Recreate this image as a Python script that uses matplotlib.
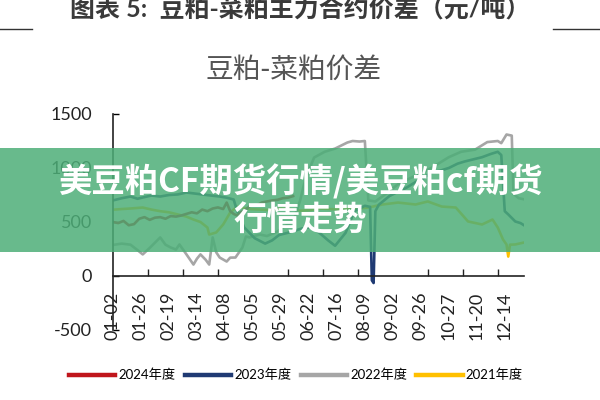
import matplotlib.pyplot as plt
from matplotlib.patches import Rectangle
from matplotlib.lines import Line2D

plt.rcParams['font.family'] = ['Lato', 'Noto Sans CJK SC', 'DejaVu Sans']
plt.rcParams['axes.unicode_minus'] = False

# x axis: trading-day index over one season, labels every 16 days
date_labels = ["01-02", "01-26", "02-19", "03-14", "04-08", "05-05", "05-29",
               "06-22", "07-16", "08-09", "09-02", "09-26", "10-27", "11-20", "12-14"]
label_step = 16
tick_step = 20
last_day = 235

# values (yuan/ton), x = trading day index
days_2024 = [0, 3, 6, 9, 12, 15, 18, 21, 24, 27, 30, 33, 36, 39, 42, 45, 48, 51, 54,
             57, 60, 63, 65, 67, 69, 71, 73, 76, 79, 82, 85, 88, 91, 94, 97, 100, 103]
vals_2024 = [500, 490, 510, 470, 480, 530, 545, 520, 540, 545, 530, 555, 550, 560, 575,
             590, 580, 615, 600, 625, 635, 620, 680, 600, 575, 560, 590, 615, 660, 650,
             680, 690, 700, 705, 720, 725, 740]

days_2023 = [0, 5, 10, 14, 17, 22, 27, 32, 37, 42, 46, 51, 56, 61, 65, 69, 71, 75, 81,
             87, 91, 95, 100, 104, 108, 113, 118, 123, 127, 133, 138, 144, 147, 148, 149,
             150, 152, 158, 163, 168, 173, 178, 182, 187, 192, 197, 201, 206, 211, 216,
             220, 222, 224, 226, 230, 233, 235]
vals_2023 = [700, 720, 736, 715, 727, 745, 736, 750, 755, 773, 765, 755, 745, 736, 725,
             708, 600, 450, 350, 300, 330, 380, 400, 420, 440, 450, 400, 330, 280, 400,
             600, 650, 640, -40, -65, 600, 660, 740, 780, 820, 870, 910, 960, 975, 1000,
             1040, 1060, 1080, 1100, 1130, 1150, 1120, 600, 570, 505, 490, 470]

days_2022 = [1, 5, 10, 14, 17, 21, 27, 30, 33, 36, 38, 42, 46, 48, 50, 53, 55, 57, 59,
             61, 65, 67, 70, 74, 76, 78, 84, 88, 94, 98, 103, 107, 110, 115, 121, 127,
             134, 137, 141, 144, 146, 150, 156, 163, 173, 182, 192, 199, 207, 214, 220,
             222, 225, 228, 229, 232, 235]
vals_2022 = [290, 300, 290, 240, 200, 260, 357, 290, 264, 245, 292, 200, 106, 160, 200,
             150, 106, 357, 220, 171, 134, 170, 171, 264, 366, 357, 384, 370, 412, 460,
             500, 700, 900, 1097, 1150, 1180, 1236, 1250, 1245, 1250, 700, 690, 760, 850,
             930, 1000, 1100, 1150, 1170, 1240, 1250, 1230, 1310, 1300, 760, 720, 710]

days_2021 = [1, 5, 10, 17, 22, 27, 32, 37, 42, 46, 50, 54, 55, 59, 63, 67, 71, 78, 84,
             90, 96, 101, 107, 113, 118, 124, 130, 136, 141, 146, 154, 163, 173, 180,
             188, 196, 203, 211, 217, 220, 223, 225, 226, 227, 230, 235]
vals_2021 = [615, 620, 625, 634, 615, 600, 590, 570, 550, 523, 500, 449, 384, 403, 477,
             588, 643, 620, 615, 610, 625, 620, 605, 610, 625, 620, 615, 630, 625, 634,
             662, 680, 662, 690, 643, 634, 505, 477, 523, 449, 338, 292, 180, 290, 292, 310]

series = [
    ("2024年度", days_2024, vals_2024, "#C0161C"),
    ("2023年度", days_2023, vals_2023, "#1F3A73"),
    ("2022年度", days_2022, vals_2022, "#A6A6A6"),
    ("2021年度", days_2021, vals_2021, "#FFC000"),
]

fig = plt.figure(figsize=(6, 4), dpi=100)
ax = fig.add_axes([113 / 600, 70 / 400, 411 / 600, 216 / 400])

# draw older seasons first so the current one sits on top
for name, d, v, c in reversed(series):
    ax.plot(d, v, color=c, lw=1.9, solid_joinstyle="round")

ax.set_xlim(0, last_day)
ax.set_ylim(-500, 1500)
ax.set_yticks([-500, 0, 500, 1000, 1500])
ax.tick_params(axis="y", direction="in", length=4, width=1, pad=15,
               labelsize=13, labelcolor="#222222")

ax.set_xticks(range(0, last_day, label_step))
ax.set_xticklabels(date_labels)
ax.set_xticks(range(tick_step, last_day, tick_step), minor=True)
ax.tick_params(axis="x", which="major", length=0, pad=11, labelsize=13,
               labelcolor="#222222", labelrotation=90)
ax.tick_params(axis="x", which="minor", direction="in", length=5, width=1,
               color="#222222")

ax.spines["bottom"].set_position(("data", 0))
ax.spines["top"].set_visible(False)
ax.spines["right"].set_visible(False)
for s in ("left", "bottom"):
    ax.spines[s].set_linewidth(1.2)
    ax.spines[s].set_color("#222222")

# titles
fig.text(0.5, 1 - 9 / 400, "图表 5:  豆粕-菜粕主力合约价差（元/吨）", ha="center",
         va="center", fontsize=18, fontweight="bold", color="#3A3A3A")
fig.add_artist(Line2D([0, 32 / 600], [1 - 29 / 400] * 2, color="#333333", lw=1))
fig.add_artist(Line2D([553 / 600, 1], [1 - 29 / 400] * 2, color="#333333", lw=1))
fig.text(294 / 600, 1 - 70 / 400, "豆粕-菜粕价差", ha="center", va="center",
         fontsize=20, color="#555555", family=["Noto Sans CJK SC"], fontweight="light")

handles = [Line2D([], [], color=c, lw=3.2) for _, _, _, c in series]
fig.legend(handles, [s[0] for s in series], loc="center",
           bbox_to_anchor=(296 / 600, 1 - 375 / 400), ncol=4, frameon=False,
           fontsize=9.5, handlelength=3.5, handletextpad=0.25, columnspacing=0.7)

# green banner over the chart
fig.add_artist(Rectangle((0, 1 - 252 / 400), 1, 104 / 400, transform=fig.transFigure,
                         facecolor="#4DAE78", alpha=0.85, edgecolor="none", zorder=10))
fig.text(0.5, 1 - 182 / 400, "美豆粕CF期货行情/美豆粕cf期货", ha="center", va="center",
         fontsize=24, fontweight="bold", color="white", zorder=11,
         family=["Noto Sans CJK SC"])
fig.text(0.5, 1 - 221 / 400, "行情走势", ha="center", va="center",
         fontsize=24, fontweight="bold", color="white", zorder=11,
         family=["Noto Sans CJK SC"])

fig.savefig("out.png", dpi=100)
